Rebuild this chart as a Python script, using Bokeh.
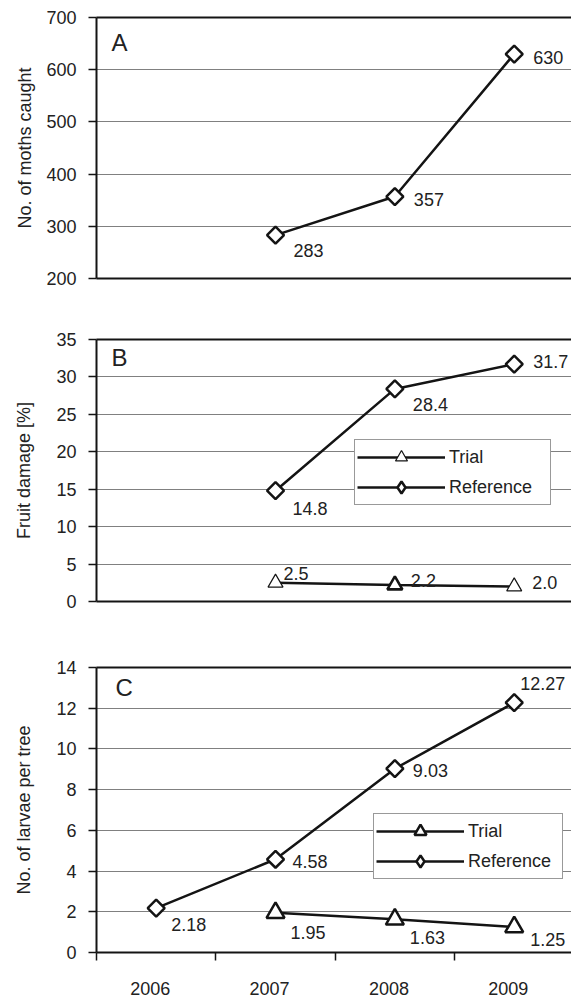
from bokeh.plotting import figure
from bokeh.layouts import column
from bokeh.models import (Range1d, FixedTicker, LinearAxis, Legend, LegendItem,
                          Label, ColumnDataSource, Grid)
from bokeh.core.properties import value
from bokeh.embed import file_html
from bokeh.resources import INLINE

# ---------------- data ----------------
years = ["2006", "2007", "2008", "2009"]

moth_years = ["2007", "2008", "2009"]
moth_ref = [283, 357, 630]

damage_years = ["2007", "2008", "2009"]
damage_trial = [2.5, 2.2, 2.0]
damage_ref = [14.8, 28.4, 31.7]

larvae_trial_years = ["2007", "2008", "2009"]
larvae_trial = [1.95, 1.63, 1.25]
larvae_ref_years = ["2006", "2007", "2008", "2009"]
larvae_ref = [2.18, 4.58, 9.03, 12.27]

yticks_a = [200, 300, 400, 500, 600, 700]
yticks_b = [0, 5, 10, 15, 20, 25, 30, 35]
yticks_c = [0, 2, 4, 6, 8, 10, 12, 14]

# label placement (screen px, relative to each point)
a_ref_dx, a_ref_dy = [18, 19, 19], [15, 3, 3]
b_ref_dx, b_ref_dy = [17, 18, 19], [18, 16, -3]
b_tri_dx, b_tri_dy = [8, 16, 18], [-9, -5, -4]
c_ref_dx, c_ref_dy = [15, 17, 18, 6], [16, 2, 2, -19]
c_tri_dx, c_tri_dy = [15, 15, 16], [20, 18, 12]

# marker outline widths (style)
b_tri_lw = [1.2, 2.6, 1.2]

FONT = "Liberation Sans"
INK = "#141414"
TXT = "#222222"


def xpos(yrs):
    return [years.index(y) + 0.5 for y in yrs]


def blank_axis():
    return LinearAxis(ticker=FixedTicker(ticks=[]), major_tick_out=0, major_tick_in=0,
                      minor_tick_out=0, minor_tick_in=0, major_label_standoff=0,
                      axis_line_color=INK, axis_line_width=2,
                      major_label_text_font_size="0px")


def panel(ylabel, yr, yticks, h, bt, bb, letter, letter_dx, letter_dy, title_standoff, full_x):
    p = figure(width=571, height=h, x_range=Range1d(0, 3.98), y_range=Range1d(*yr),
               output_backend="svg", toolbar_location=None,
               x_axis_type=None, y_axis_type=None,
               min_border_left=96, min_border_right=0,
               min_border_top=bt, min_border_bottom=bb)
    p.outline_line_color = None
    p.background_fill_color = "white"

    ya = LinearAxis(ticker=FixedTicker(ticks=yticks), axis_label=ylabel,
                    axis_line_color=INK, axis_line_width=2,
                    major_tick_out=8, major_tick_in=0,
                    major_tick_line_color=INK, major_tick_line_width=1.5,
                    minor_tick_out=0, minor_tick_in=0,
                    major_label_standoff=12,
                    major_label_text_font=FONT, major_label_text_font_size="18px",
                    major_label_text_color=TXT,
                    axis_label_text_font=FONT, axis_label_text_font_size="18px",
                    axis_label_text_font_style="normal", axis_label_text_color=TXT,
                    axis_label_standoff=title_standoff)
    p.add_layout(ya, "left")
    p.add_layout(Grid(dimension=1, ticker=FixedTicker(ticks=yticks),
                      grid_line_color="#808080", grid_line_width=1))
    p.add_layout(blank_axis(), "above")

    if full_x:
        centers = [i + 0.45 for i in range(len(years))]
        xa = LinearAxis(ticker=FixedTicker(ticks=centers,
                                           minor_ticks=list(range(len(years) + 1))),
                        major_label_overrides={c: y for c, y in zip(centers, years)},
                        axis_line_color=INK, axis_line_width=2,
                        major_tick_out=0, major_tick_in=0,
                        minor_tick_out=8, minor_tick_in=0,
                        minor_tick_line_color=INK, minor_tick_line_width=1.5,
                        major_label_standoff=21,
                        major_label_text_font=FONT, major_label_text_font_size="18px",
                        major_label_text_color=TXT)
        p.add_layout(xa, "below")
    else:
        p.add_layout(blank_axis(), "below")

    p.add_layout(Label(x=0, y=yr[1], x_offset=letter_dx, y_offset=-letter_dy, text=letter,
                       text_font=FONT, text_font_size="24px", text_color=TXT,
                       text_baseline="middle", text_align="left"))
    return p


def series(p, yrs, vals, fmt, dx, dy, marker, size, lw):
    src = ColumnDataSource(dict(x=xpos(yrs), y=vals, t=[fmt.format(v) for v in vals],
                                dx=dx, dy=dy,
                                lw=lw if isinstance(lw, list) else [lw] * len(vals)))
    ln = p.line("x", "y", source=src, line_color=INK, line_width=2.5)
    if marker == "diamond":
        # legend swatch (Bokeh legends ignore marker angle); hidden under the rotated squares
        sw = p.scatter("x", "y", source=src, marker="diamond", size=size,
                       fill_color="white", line_color=INK, line_width="lw")
        p.scatter("x", "y", source=src, marker="square", angle=0.785398, size=size,
                  fill_color="white", line_color=INK, line_width="lw")
    else:
        sw = p.scatter("x", "y", source=src, marker="triangle", size=size,
                       fill_color="white", line_color=INK, line_width="lw")
    p.text("x", "y", text="t", source=src, x_offset="dx", y_offset="dy",
           text_font=value(FONT), text_font_size=value("18px"), text_color=TXT,
           text_baseline="middle", text_align="left")
    return ln, sw


def legend(p, trial, ref, loc, lw):
    lg = Legend(items=[LegendItem(label="Trial", renderers=list(trial), index=0),
                       LegendItem(label="Reference", renderers=list(ref), index=0)],
                location=loc, padding=2, spacing=0, margin=0,
                glyph_width=88, glyph_height=30, label_height=30, label_standoff=4,
                label_width=lw,
                label_text_font=FONT, label_text_font_size="18px", label_text_color=TXT,
                border_line_color="#333333", border_line_width=1.5,
                background_fill_color="white", background_fill_alpha=1.0)
    p.add_layout(lg, "center")


# Panel A
pa = panel("No. of moths caught", (200, 700), yticks_a, 309, 17, 31, "A", 15, 25, 8, False)
series(pa, moth_years, moth_ref, "{:.0f}", a_ref_dx, a_ref_dy, "diamond", 12, 2.5)

# Panel B
pb = panel("Fruit damage [%]", (0, 35), yticks_b, 324, 30, 32, "B", 15, 18, 19, False)
rb = series(pb, damage_years, damage_ref, "{:.1f}", b_ref_dx, b_ref_dy, "diamond", 12, 2.5)
tb = series(pb, damage_years, damage_trial, "{:.1f}", b_tri_dx, b_tri_dy, "triangle", 15, b_tri_lw)
legend(pb, tb, rb, (258, 96), 99)

# Panel C
pc = panel("No. of larvae per tree", (0, 14), yticks_c, 364, 34, 44, "C", 19, 20, 19, True)
rc = series(pc, larvae_ref_years, larvae_ref, "{:.2f}", c_ref_dx, c_ref_dy, "diamond", 12, 2.5)
tc = series(pc, larvae_trial_years, larvae_trial, "{:.2f}", c_tri_dx, c_tri_dy, "triangle", 18, 2.5)
legend(pc, tc, rc, (277, 73), 92)

layout = column(pa, pb, pc, spacing=0)
open("out.html", "w").write(file_html(layout, INLINE))
